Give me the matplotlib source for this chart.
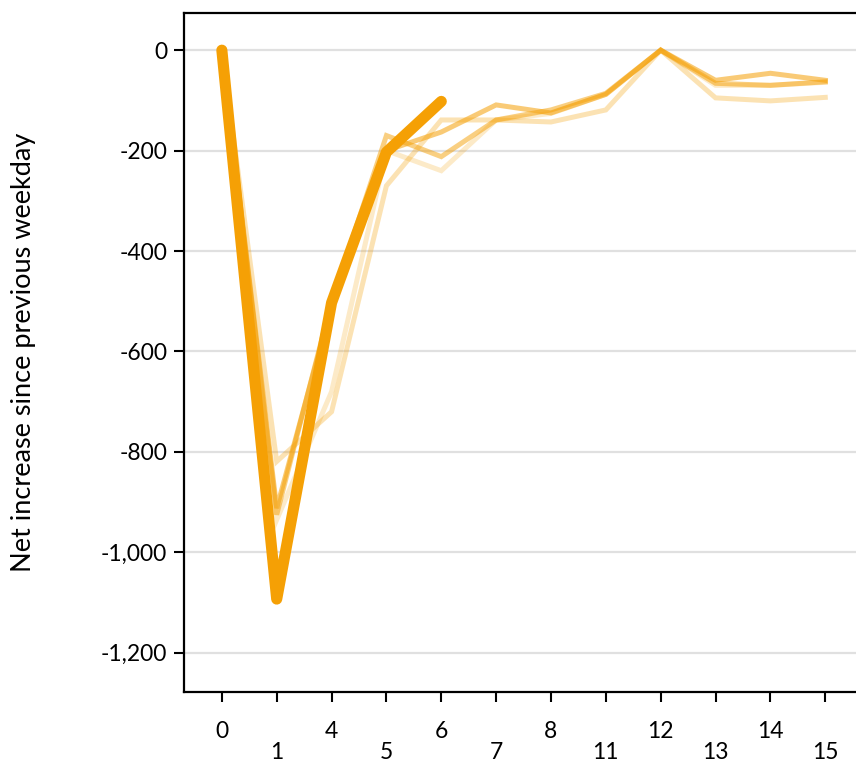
import matplotlib
matplotlib.use("Agg")
import matplotlib.pyplot as plt
from matplotlib.ticker import FuncFormatter

categories = ["0", "1", "4", "5", "6", "7", "8", "11", "12", "13", "14", "15"]

current = [0, -1093, -503, -203, -102]

series_a = [0, -912, -510, -200, -163, -109, -125, -88, 0, -60, -46, -60]
series_b = [0, -925, -500, -170, -212, -139, -119, -86, 0, -66, -70, -63]
series_c = [0, -819, -720, -270, -139, -139, -143, -119, 0, -95, -101, -94]
series_d = [0, -935, -680, -200, -240, -139, -126, -88, 0, -70, -70, -64]

y_ticks = [0, -200, -400, -600, -800, -1000, -1200]
y_label = "Net increase since previous weekday"

color = "#F5A005"

plt.rcParams['font.family'] = ['Lato', 'DejaVu Sans']

fig = plt.figure(figsize=(8.56, 7.67), dpi=100)
ax = fig.add_axes([184/856, 1-692/767, 1-184/856, (692-13)/767])

x = list(range(len(categories)))
for s, a in [(series_c, 0.3), (series_d, 0.22), (series_b, 0.5), (series_a, 0.55)]:
    ax.plot(x, s, color=color, alpha=a, lw=3.6, solid_joinstyle='miter', zorder=2)
ax.plot(x[:len(current)], current, color=color, lw=8, solid_capstyle='round',
        solid_joinstyle='round', zorder=3)

ax.set_xlim(-0.69, 11.56)
ax.set_ylim(-1278, 74)

ax.set_yticks(y_ticks)
ax.yaxis.set_major_formatter(FuncFormatter(lambda v, p: f"{int(v):,}"))
ax.grid(axis='y', color='#e0e0e0', lw=1.6, zorder=0)
ax.set_axisbelow(True)

ax.set_xticks(x)
ax.set_xticklabels([c if i % 2 == 0 else "\n" + c for i, c in enumerate(categories)])
for lbl in ax.get_xticklabels():
    lbl.set_linespacing(1.0)

ax.tick_params(axis='both', labelsize=16.5, length=7, width=1.5, color='black', direction='out')
ax.tick_params(axis='x', pad=14)
ax.tick_params(axis='y', pad=5)

for side in ['left', 'top', 'bottom']:
    ax.spines[side].set_linewidth(1.6)
ax.spines['right'].set_visible(False)

ax.set_ylabel(y_label, fontsize=19.5, labelpad=47)

fig.savefig("out.png", dpi=100)
